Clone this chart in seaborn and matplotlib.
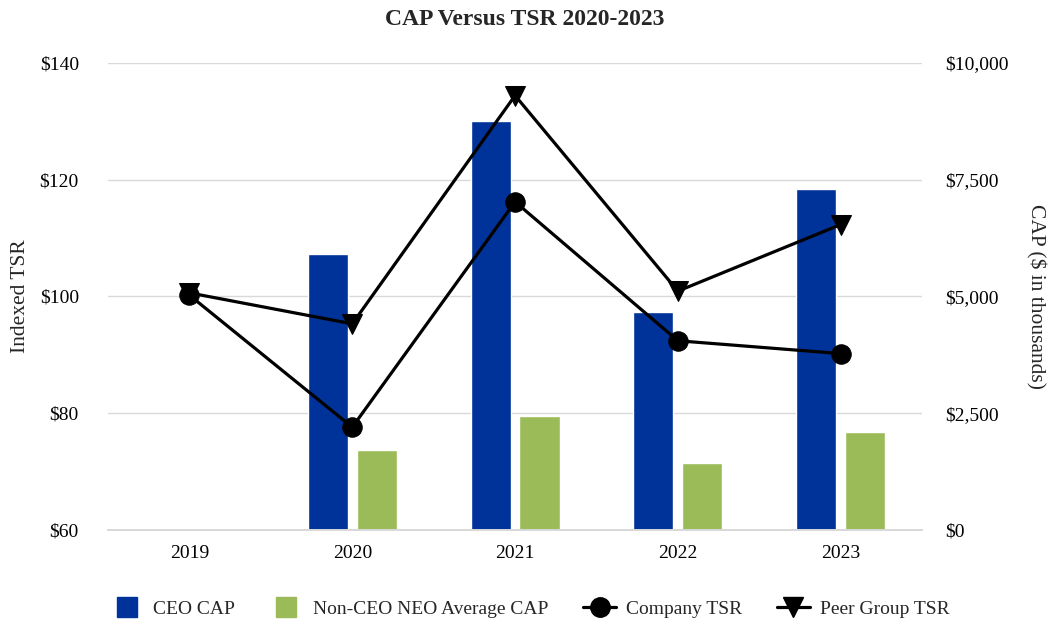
import pandas as pd
import seaborn as sns
import matplotlib.pyplot as plt
from matplotlib.ticker import FuncFormatter
from matplotlib.lines import Line2D

years = ["2019", "2020", "2021", "2022", "2023"]
bar_years = ["2020", "2021", "2022", "2023"]
ceo_cap = [5910, 8765, 4675, 7302]
neo_cap = [1707, 2448, 1441, 2092]
company_tsr = [100.2, 77.6, 116.2, 92.4, 90.2]
peer_tsr = [100.6, 95.3, 134.4, 100.9, 112.3]

navy = "#003399"
green = "#9BBB59"

sns.set_theme(style="white")
plt.rcParams["font.family"] = ["Liberation Serif", "DejaVu Serif"]

cap_df = pd.DataFrame({
    "year": bar_years * 2,
    "cap": ceo_cap + neo_cap,
    "series": ["CEO CAP"] * 4 + ["Non-CEO NEO Average CAP"] * 4,
})
tsr_df = pd.DataFrame({"year": years, "company": company_tsr, "peer": peer_tsr})

fig, ax1 = plt.subplots(figsize=(10.49, 6.22), dpi=100)
fig.subplots_adjust(left=0.103, right=0.879, bottom=0.148, top=0.899)
ax2 = ax1.twinx()

# bars on the right axis, behind the lines
sns.barplot(data=cap_df, x="year", y="cap", hue="series", order=years,
            hue_order=["CEO CAP", "Non-CEO NEO Average CAP"],
            palette=[navy, green], width=0.6, gap=0.18, ax=ax2,
            legend=False, saturation=1)
ax2.set_ylim(0, 10000)
ax2.set_yticks([0, 2500, 5000, 7500, 10000])
ax2.yaxis.set_major_formatter(FuncFormatter(lambda v, p: f"${v:,.0f}"))
ax2.grid(axis="y", color="#d9d9d9", linewidth=1)
ax2.set_axisbelow(True)
ax2.set_ylabel("CAP ($ in thousands)", rotation=270, labelpad=26, fontsize=15.5)

sns.lineplot(data=tsr_df, x="year", y="company", color="black", linewidth=2.3,
             marker="o", markersize=14, markeredgecolor="black", ax=ax1)
sns.lineplot(data=tsr_df, x="year", y="peer", color="black", linewidth=2.3,
             marker="v", markersize=14, markeredgecolor="black", ax=ax1)
ax1.set_ylim(60, 140)
ax1.set_yticks([60, 80, 100, 120, 140])
ax1.yaxis.set_major_formatter(FuncFormatter(lambda v, p: f"${v:.0f}"))
ax1.set_ylabel("Indexed TSR", fontsize=15.5, labelpad=7)
ax1.set_xlabel("")
ax2.set_xlabel("")
ax1.set_xlim(-0.5, 4.5)

ax1.set_zorder(ax2.get_zorder() + 1)
ax1.patch.set_visible(False)

for ax in (ax1, ax2):
    for s in ax.spines.values():
        s.set_visible(False)
    ax.spines["bottom"].set_visible(True)
    ax.spines["bottom"].set_color("#d9d9d9")
    ax.tick_params(axis="both", length=0, labelsize=14, colors="black")
ax1.tick_params(axis="y", pad=21)
ax2.tick_params(axis="y", pad=17)
ax1.tick_params(axis="x", pad=11)

fig.suptitle("CAP Versus TSR 2020-2023", fontsize=17, fontweight="bold", y=0.985)

handles = [
    Line2D([], [], color=navy, linestyle="none", marker="s", markersize=15),
    Line2D([], [], color=green, linestyle="none", marker="s", markersize=15),
    Line2D([], [], color="black", linewidth=2.3, marker="o", markersize=14),
    Line2D([], [], color="black", linewidth=2.3, marker="v", markersize=14),
]
labels = ["CEO CAP", "Non-CEO NEO Average CAP", "Company TSR", "Peer Group TSR"]
fig.legend(handles, labels, loc="lower center", bbox_to_anchor=(0.505, -0.022),
           ncol=4, frameon=False, fontsize=14, handlelength=1.7,
           columnspacing=1.8, handletextpad=0.5)

plt.savefig("out.png", dpi=100)
